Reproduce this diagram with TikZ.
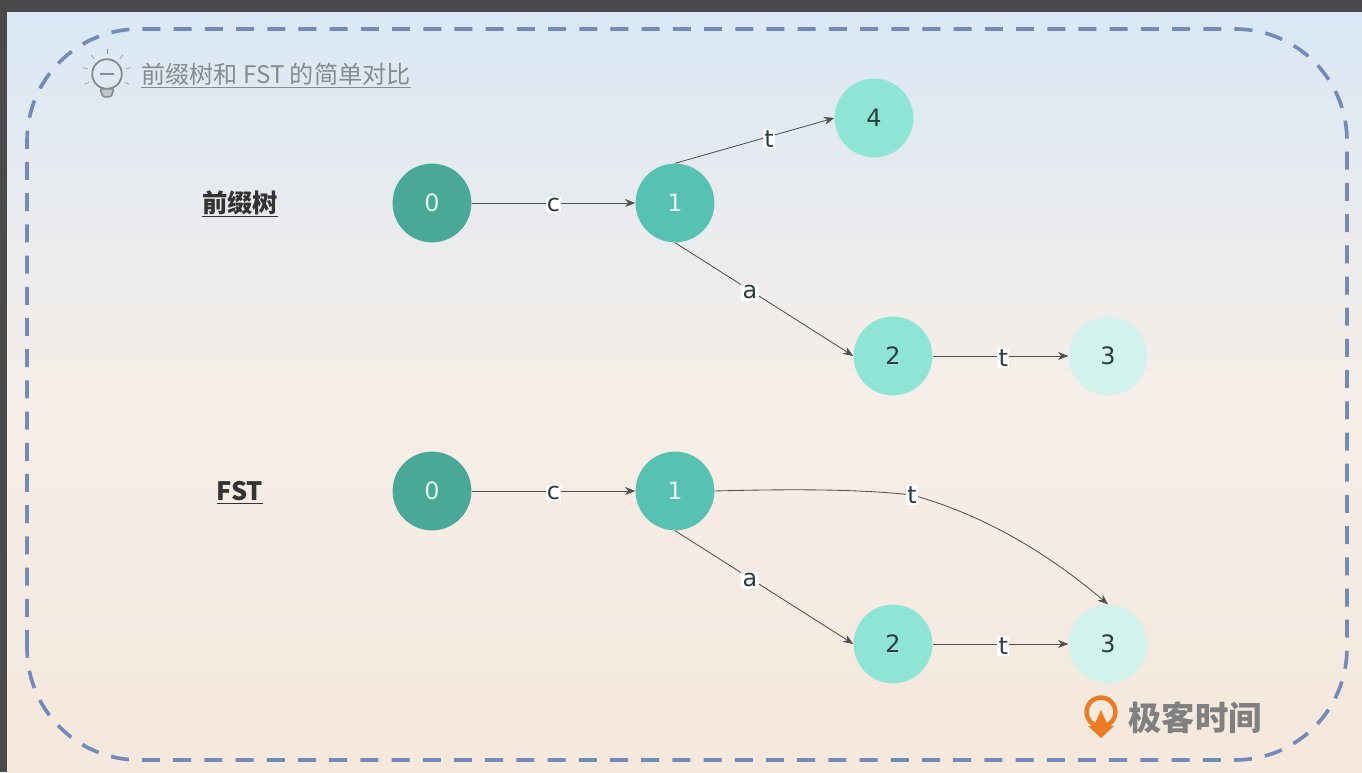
\documentclass[tikz,border=0pt]{standalone}
\usepackage{fontspec}
\setmainfont{DejaVu Sans}
\newfontfamily\cjk{Noto Sans CJK SC}
\definecolor{fstframe}{RGB}{74,74,76}
\definecolor{fsttop}{RGB}{218,232,245}
\definecolor{fstmid}{RGB}{246,238,232}
\definecolor{fstbottom}{RGB}{245,232,220}
\definecolor{fstdash}{RGB}{116,138,186}
\definecolor{fstzero}{RGB}{74,168,152}
\definecolor{fstone}{RGB}{87,193,178}
\definecolor{fsttwo}{RGB}{143,229,213}
\definecolor{fstthree}{RGB}{210,242,236}
\definecolor{fstink}{RGB}{42,62,66}
\definecolor{fstline}{RGB}{80,80,80}
\definecolor{fstgrey}{RGB}{135,138,142}
\definecolor{fstorange}{RGB}{236,124,34}
\usepackage{tikz}
\usetikzlibrary{arrows.meta, calc}

\begin{document}
\begin{tikzpicture}[
    state/.style={circle, minimum size=1.97cm, inner sep=0pt, font=\fontsize{17}{20}\selectfont},
    edge/.style={-{Stealth[length=2.6mm,width=2mm]}, fstline, line width=0.6pt},
    edgelabel/.style={fill=white, inner sep=1pt, yshift=-1.5pt, text=fstink, font=\fontsize{17}{20}\selectfont},
    rowlabel/.style={text=black!80, font=\cjk\bfseries\fontsize{18}{22}\selectfont}]

\useasboundingbox (0,0) rectangle (34.05,19.3);

% === Background ===
\fill[fstframe] (0,0) rectangle (34.05,19.3);
\shade[top color=fsttop, bottom color=fstbottom, middle color=fstmid] (0.175,0) rectangle (34.05,18.975);

% Dashed frame
\draw[fstdash, line width=2.6pt, dash pattern=on 0.45cm off 0.33cm, rounded corners=2.8cm]
     (0.675,0.3) rectangle (33.675,18.575);

% === Title ===
% Bulb icon
\draw[fstgrey, line width=1.3pt] (2.675,17.45) circle (0.37);
\draw[fstgrey, line width=1.3pt] (2.5,17.45) -- (2.85,17.45);
\draw[fstgrey, line width=1.1pt, fill=fstgrey!50, rounded corners=1.5pt] (2.5,17.08) -- (2.85,17.08) -- (2.78,16.88) -- (2.57,16.88) -- cycle;
\foreach \angle in {-25,15,50,90,130,165,205} {
    \draw[fstgrey, thin] ($(2.675,17.45)+(\angle:0.5)$) -- ($(2.675,17.45)+(\angle:0.62)$);
}
\node[text=fstgrey, font=\cjk\fontsize{17.2}{20}\selectfont] (title) at (6.9,17.4) {\underline{前缀树和 FST 的简单对比}};

% === Prefix tree ===
\node[rowlabel] (treelabel) at (6,14.2) {\underline{前缀树}};

\node[state, fill=fstzero, text=white!85!fstzero] (t0) at (10.8,14.225) {0};
\node[state, fill=fstone, text=white!85!fstone] (t1) at (16.875,14.225) {1};
\node[state, fill=fsttwo, text=fstink] (t4) at (21.85,16.35) {4};
\node[state, fill=fsttwo, text=fstink] (t2) at (22.325,10.4) {2};
\node[state, fill=fstthree, text=fstink] (t3) at (27.7,10.4) {3};

\draw[edge] (t0) -- node[edgelabel] {c} (t1);
\draw[edge] (t1.north) -- node[edgelabel, pos=0.59] {t} (t4.west);
\draw[edge] (t1.south) -- node[edgelabel, pos=0.42] {a} (t2.west);
\draw[edge] (t2) -- node[edgelabel, pos=0.52] {t} (t3);

% === FST ===
\node[rowlabel, font=\cjk\bfseries\fontsize{18}{20}\selectfont] (fstlabel) at (6,6.98) {\underline{FST}};

\node[state, fill=fstzero, text=white!85!fstzero] (f0) at (10.8,7.025) {0};
\node[state, fill=fstone, text=white!85!fstone] (f1) at (16.875,7.025) {1};
\node[state, fill=fsttwo, text=fstink] (f2) at (22.325,3.2) {2};
\node[state, fill=fstthree, text=fstink] (f3) at (27.7,3.2) {3};

\draw[edge] (f0) -- node[edgelabel] {c} (f1);
\draw[edge] (f1.east) .. controls (19.75,7.075) and (21.5,7.075) .. (22.8,6.925) node[edgelabel, yshift=1.5pt] {t}
     .. controls (24.625,6.425) and (26.25,5.425) .. (f3.north);
\draw[edge] (f1.south) -- node[edgelabel, pos=0.42] {a} (f2.west);
\draw[edge] (f2) -- node[edgelabel, pos=0.52] {t} (f3);

% === Logo ===
\draw[fstorange, line width=3.2pt] (27.525,1.5) circle (0.36);
\fill[fstorange] (27.2,1.15) -- (27.85,1.15) -- (27.525,0.85) -- cycle;
\fill[fstorange] (27.525,1.55) -- (27.3,1.05) -- (27.75,1.05) -- cycle;
\node[text=black!50, font=\cjk\bfseries\fontsize{23.7}{26}\selectfont] (logo) at (29.875,1.35) {极客时间};

\end{tikzpicture}
\end{document}
